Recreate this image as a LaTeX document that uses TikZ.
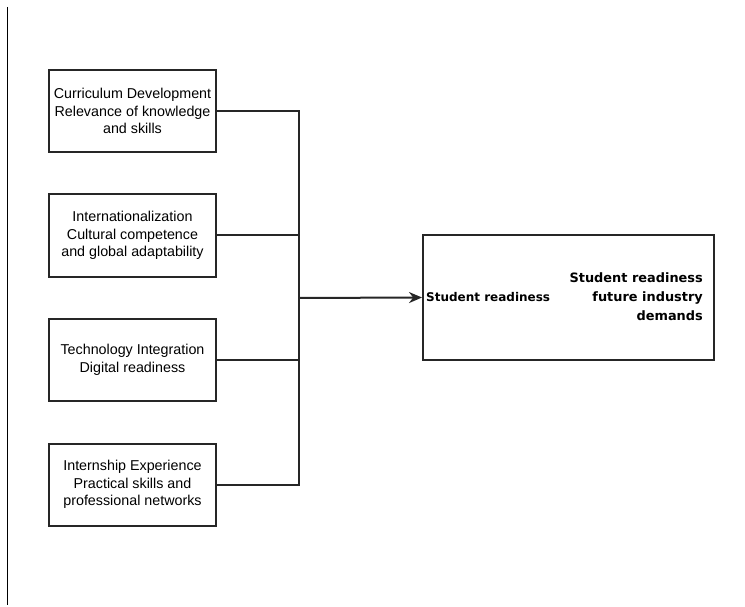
\documentclass[tikz,border=0pt]{standalone}
\usepackage{fontspec}
\setmainfont{Liberation Sans}
\newfontfamily\resfont{DejaVu Sans}
\usepackage{tikz}
\usetikzlibrary{arrows.meta}

\tikzset{
  factor/.style={draw=black!85,line width=2pt,minimum width=167,minimum height=82,
    align=center,font=\fontsize{14.3}{17.5}\selectfont,inner sep=0pt},
  outcome/.style={draw=black!85,line width=2pt,minimum width=291,minimum height=125},
  link/.style={line width=2pt,black!85}
}

\begin{document}
\begin{tikzpicture}[x=1pt,y=-1pt]
\useasboundingbox (0,0) rectangle (745,607);
\draw[line width=1.5pt] (7.5,7) -- (7.5,605);
\foreach \name/\y/\txt in {cur/111/{Curriculum Development\\Relevance of knowledge\\and skills},
  intl/235.5/{Internationalization\\Cultural competence\\and global adaptability},
  tech/360/{Technology Integration\\Digital readiness},
  intern/484.5/{Internship Experience\\Practical skills and\\professional networks}}
  {\node[factor] (\name) at (132.5,\y) {\txt};}
\node[outcome] (res) at (568.5,297.5) {};
\node[anchor=west,inner sep=0pt,font=\resfont\bfseries\fontsize{12}{19}\selectfont] (reslbl) at ([xshift=4]res.west) {Student readiness};
\node[anchor=east,align=right,inner sep=0pt,font=\resfont\bfseries\fontsize{12.9}{19}\selectfont] (resval) at ([xshift=-12,yshift=1]res.east) {Student readiness\\future industry\\demands};
\coordinate (bus) at (298.5,298);
\draw[link] (cur.east) -| (bus);
\draw[link] (intern.east) -| (bus);
\draw[link] (intl.east) -- (intl.east -| bus);
\draw[link] (tech.east) -- (tech.east -| bus);
\draw[link,-{Stealth[length=13pt,width=11pt]}] (bus) -- (res.west);
\end{tikzpicture}
\end{document}
